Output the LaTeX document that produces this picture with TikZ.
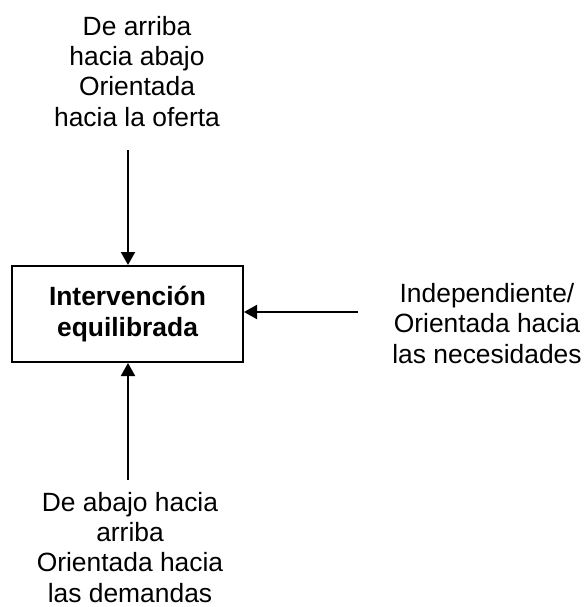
\documentclass[tikz,border=0pt]{standalone}
\usepackage{fontspec}
\setmainfont{Liberation Sans}
\usetikzlibrary{arrows.meta}
\begin{document}
\begin{tikzpicture}[x=1pt,y=-1pt,
  lbl/.style={align=center,font=\fontsize{26.4}{30.2}\selectfont,inner sep=0pt,anchor=base},
  conn/.style={line width=2pt,-{Triangle[width=14pt,length=13pt]}},
  mainbox/.style={draw,line width=2pt,minimum width=231pt,minimum height=96pt,inner sep=0pt,font=\fontsize{26.4}{31}\selectfont\bfseries,align=center}]
\useasboundingbox (0,0) rectangle (587,607);
\node[mainbox] (box) at (127.5,314) {Intervención\\equilibrada};
\node[lbl] (top) at (137,126) {De arriba\\hacia abajo\\Orientada\\hacia la oferta};
\node[lbl] (right) at (487,363) {Independiente/\\Orientada hacia\\las necesidades};
\node[lbl] (bottom) at (130,602) {De abajo hacia\\arriba\\Orientada hacia\\las demandas};
\coordinate (ta) at (128,150);
\coordinate (ra) at (358,312);
\coordinate (ba) at (128,480);
\draw[conn] (ta) -- (ta |- box.north);
\draw[conn] (ra) -- (ra -| box.east);
\draw[conn] (ba) -- (ba |- box.south);
\end{tikzpicture}
\end{document}
